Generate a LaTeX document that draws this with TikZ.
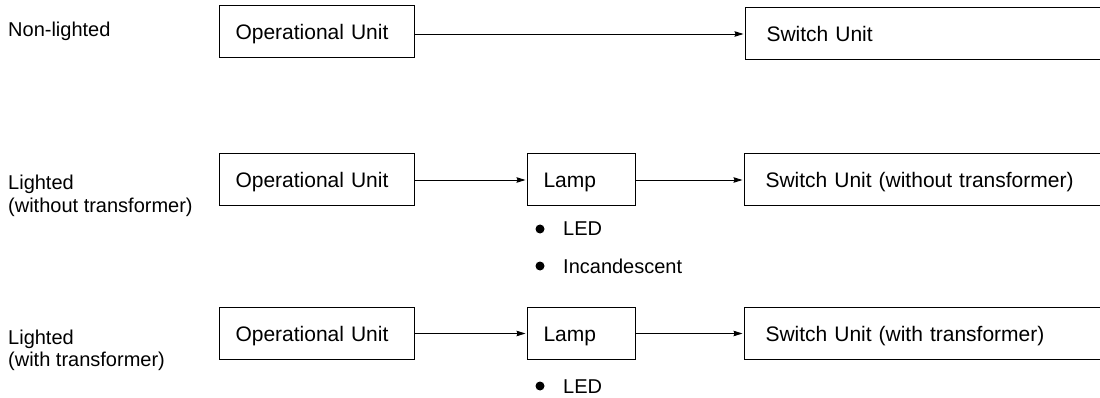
\documentclass[tikz,border=0pt]{standalone}
\usepackage{fontspec}
\setmainfont{Liberation Sans}
\usetikzlibrary{arrows.meta}
\begin{document}
\begin{tikzpicture}[x=1pt,y=-1pt,
  every node/.style={font=\fontsize{20}{24}\selectfont, inner sep=0pt},
  box/.style={draw, line width=1pt, minimum height=52pt, inner xsep=16pt, inner ysep=0pt,
    anchor=west, align=left, text height=16pt, text depth=0pt, font=\fontsize{21}{24}\selectfont},
  swbox/.style={box, inner xsep=21pt, text width=380pt},
  lbl/.style={anchor=base west},
  dot/.style={circle, fill=black, minimum size=9pt, inner sep=0pt},
  conn/.style={line width=0.9pt, -{Stealth[length=9pt,width=5.5pt,inset=1pt]}, shorten >=1.5pt}
]
\clip (0,0) rectangle (1100,398);
% Row 1
\node[lbl] (l1) at (8,37) {Non-lighted};
\node[box, text width=163pt] (op1) at (219,32) {Operational Unit};
\node[swbox] (sw1) at (745,34) {Switch Unit};
\draw[conn] (op1.east |- sw1.west) -- (sw1.west);
% Row 2
\node[lbl] (l2a) at (8,190) {Lighted};
\node[lbl] (l2b) at (8,212) {(without transformer)};
\node[box, text width=163pt] (op2) at (219,180) {Operational Unit};
\node[box, text width=76pt] (lamp2) at (527,180) {Lamp};
\node[swbox] (sw2) at (744,180) {Switch Unit (without transformer)};
\draw[conn] (op2.east) -- (lamp2.west);
\draw[conn] (lamp2.east) -- (sw2.west);
\node[dot] (d2a) at (540,229) {};
\node[lbl] (t2a) at (563,236) {LED};
\node[dot] (d2b) at (540,266) {};
\node[lbl] (t2b) at (563,273) {Incandescent};
% Row 3
\node[lbl] (l3a) at (8,344) {Lighted};
\node[lbl] (l3b) at (8,366) {(with transformer)};
\node[box, text width=163pt] (op3) at (219,333.5) {Operational Unit};
\node[box, text width=76pt] (lamp3) at (527,333.5) {Lamp};
\node[swbox] (sw3) at (744,333.5) {Switch Unit (with transformer)};
\draw[conn] (op3.east) -- (lamp3.west);
\draw[conn] (lamp3.east) -- (sw3.west);
\node[dot] (d3a) at (540,386) {};
\node[lbl] (t3a) at (563,393) {LED};
\end{tikzpicture}
\end{document}
